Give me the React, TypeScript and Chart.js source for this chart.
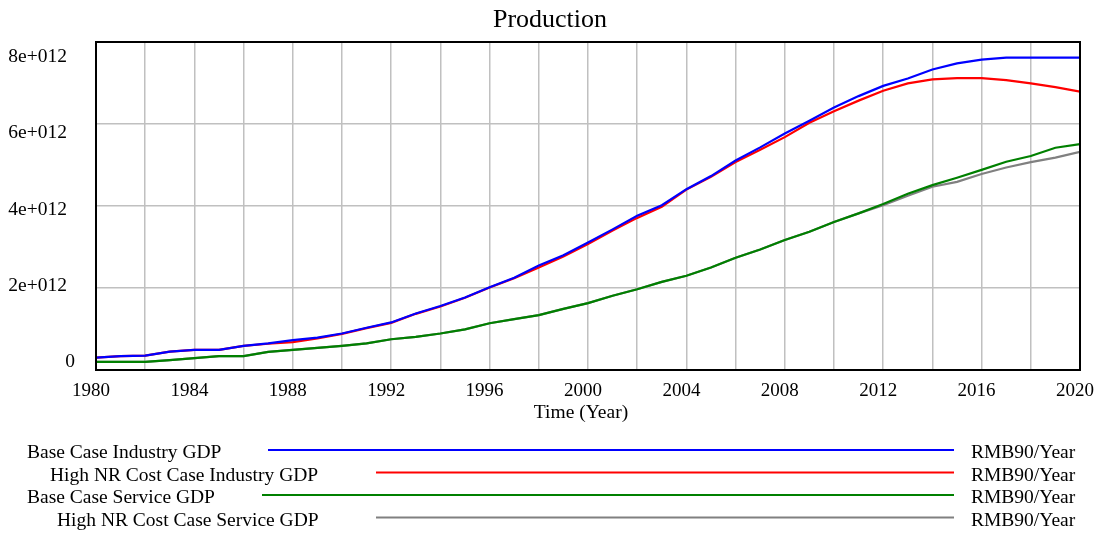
import React, { useEffect, useRef } from 'react';
import { Chart, registerables } from 'chart.js';

Chart.register(...registerables);

const TITLE = 'Production';
const X_TITLE = 'Time (Year)';
const UNITS = 'RMB90/Year';

const years = [
  1980, 1981, 1982, 1983, 1984, 1985, 1986, 1987, 1988, 1989,
  1990, 1991, 1992, 1993, 1994, 1995, 1996, 1997, 1998, 1999,
  2000, 2001, 2002, 2003, 2004, 2005, 2006, 2007, 2008, 2009,
  2010, 2011, 2012, 2013, 2014, 2015, 2016, 2017, 2018, 2019, 2020,
];

const seriesNames = [
  'Base Case Industry GDP',
  'High NR Cost Case Industry GDP',
  'Base Case Service GDP',
  'High NR Cost Case Service GDP',
];

const seriesColors = ['#0000ff', '#ff0000', '#008000', '#808080'];

// values in units of 1e12 RMB90/Year
const baseIndustry = [
  0.30, 0.34, 0.35, 0.45, 0.49, 0.49, 0.59, 0.65, 0.73, 0.79,
  0.89, 1.03, 1.16, 1.38, 1.56, 1.77, 2.02, 2.25, 2.55, 2.80,
  3.11, 3.43, 3.76, 4.02, 4.41, 4.73, 5.11, 5.43, 5.77, 6.08,
  6.40, 6.68, 6.93, 7.11, 7.33, 7.48, 7.57, 7.62, 7.62, 7.62, 7.62,
];

const highNRIndustry = [
  0.30, 0.34, 0.35, 0.45, 0.49, 0.49, 0.59, 0.64, 0.68, 0.77,
  0.88, 1.02, 1.15, 1.37, 1.55, 1.76, 2.01, 2.24, 2.50, 2.77,
  3.07, 3.40, 3.71, 3.98, 4.40, 4.71, 5.07, 5.37, 5.68, 6.03,
  6.31, 6.57, 6.81, 6.99, 7.09, 7.12, 7.12, 7.07, 6.99, 6.90, 6.79,
];

const baseService = [
  0.20, 0.20, 0.20, 0.24, 0.29, 0.34, 0.34, 0.44, 0.49, 0.54,
  0.59, 0.65, 0.75, 0.81, 0.89, 0.99, 1.14, 1.24, 1.34, 1.49,
  1.63, 1.81, 1.97, 2.15, 2.30, 2.50, 2.74, 2.94, 3.17, 3.37,
  3.61, 3.82, 4.05, 4.30, 4.51, 4.69, 4.88, 5.08, 5.22, 5.42, 5.51,
];

const highNRService = [
  0.20, 0.20, 0.20, 0.24, 0.29, 0.34, 0.34, 0.44, 0.49, 0.54,
  0.59, 0.65, 0.75, 0.81, 0.89, 0.99, 1.14, 1.24, 1.34, 1.49,
  1.63, 1.81, 1.97, 2.15, 2.30, 2.50, 2.74, 2.94, 3.17, 3.37,
  3.61, 3.82, 4.02, 4.25, 4.47, 4.59, 4.78, 4.94, 5.07, 5.18, 5.32,
];

const SCALE = 1e12;

const yTickValues = [0, 2e12, 4e12, 6e12, 8e12];
const yTickLabels = ['0', '2e+012', '4e+012', '6e+012', '8e+012'];

const FONT = '"Liberation Serif", "Times New Roman", serif';

const overlayPlugin = {
  id: 'vensimOverlay',
  afterDraw(chart: any) {
    const { ctx, chartArea: a, scales } = chart;
    ctx.save();
    // frame
    ctx.strokeStyle = '#000';
    ctx.lineWidth = 2;
    ctx.strokeRect(a.left, a.top, a.right - a.left, a.bottom - a.top);

    ctx.fillStyle = '#000';
    // title
    ctx.font = `26px ${FONT}`;
    ctx.textAlign = 'center';
    ctx.textBaseline = 'alphabetic';
    ctx.fillText(TITLE, 550, 27);

    // y tick labels (Vensim style inset placement)
    ctx.font = `19.5px ${FONT}`;
    ctx.textAlign = 'right';
    yTickValues.forEach((v, i) => {
      const p = scales.y.getPixelForValue(v);
      const frac = (p - a.top) / (a.bottom - a.top);
      const by = a.top + 20 + frac * 305;
      const x = v === 0 ? 75 : 67;
      ctx.fillText(yTickLabels[i], x, by);
    });

    // x axis title
    ctx.textAlign = 'center';
    ctx.fillText(X_TITLE, 581, 418);

    // legend
    const indents = [27, 50, 27, 57];
    const lineStarts = [268, 376, 262, 376];
    seriesNames.forEach((name, i) => {
      const y = 450 + i * 22.5;
      ctx.textAlign = 'left';
      ctx.fillStyle = '#000';
      ctx.fillText(name, indents[i], y + 8);
      ctx.strokeStyle = seriesColors[i];
      ctx.lineWidth = 2;
      ctx.beginPath();
      ctx.moveTo(lineStarts[i], y);
      ctx.lineTo(954, y);
      ctx.stroke();
      ctx.fillText(UNITS, 971, y + 8);
    });
    ctx.restore();
  },
};

export default function App() {
  const ref = useRef<HTMLCanvasElement | null>(null);

  useEffect(() => {
    const canvas = ref.current;
    if (!canvas) return;
    const allSeries = [baseIndustry, highNRIndustry, baseService, highNRService];
    const chart = new Chart(canvas, {
      type: 'line',
      data: {
        datasets: allSeries.map((vals, i) => ({
          label: seriesNames[i],
          data: years.map((yr, j) => ({ x: yr, y: vals[j] * SCALE })),
          borderColor: seriesColors[i],
          backgroundColor: seriesColors[i],
          borderWidth: 2.2,
          pointRadius: 0,
          tension: 0,
          fill: false,
        })),
      },
      options: {
        animation: false,
        responsive: false,
        devicePixelRatio: 1,
        layout: { padding: { top: 42, right: 17, left: 0, bottom: 0 } },
        plugins: {
          legend: { display: false },
          title: { display: false },
          tooltip: { enabled: false },
        },
        scales: {
          x: {
            type: 'linear',
            min: 1980,
            max: 2020,
            border: { display: false },
            grid: { color: '#c0c0c0', lineWidth: 1.5, drawTicks: false },
            ticks: {
              stepSize: 2,
              autoSkip: false,
              maxRotation: 0,
              padding: 10,
              labelOffset: -5,
              color: '#000',
              font: { family: FONT, size: 19 },
              callback: (v: any) => (Number(v) % 4 === 0 ? String(v) : ''),
            },
            afterFit: (s: any) => {
              s.height = 163;
              s.paddingLeft = 0;
              s.paddingRight = 0;
            },
          },
          y: {
            min: 0,
            max: 8e12,
            border: { display: false },
            grid: { color: '#c0c0c0', lineWidth: 1.5, drawTicks: false },
            ticks: { stepSize: 2e12, display: false },
            afterFit: (s: any) => {
              s.width = 96;
              s.paddingTop = 0;
              s.paddingBottom = 0;
            },
          },
        },
      },
      plugins: [overlayPlugin],
    });
    return () => chart.destroy();
  }, []);

  return (
    <div style={{ position: 'fixed', left: 0, top: 0, width: 1097, height: 533, background: '#fff' }}>
      <canvas ref={ref} width={1097} height={533} />
    </div>
  );
}
